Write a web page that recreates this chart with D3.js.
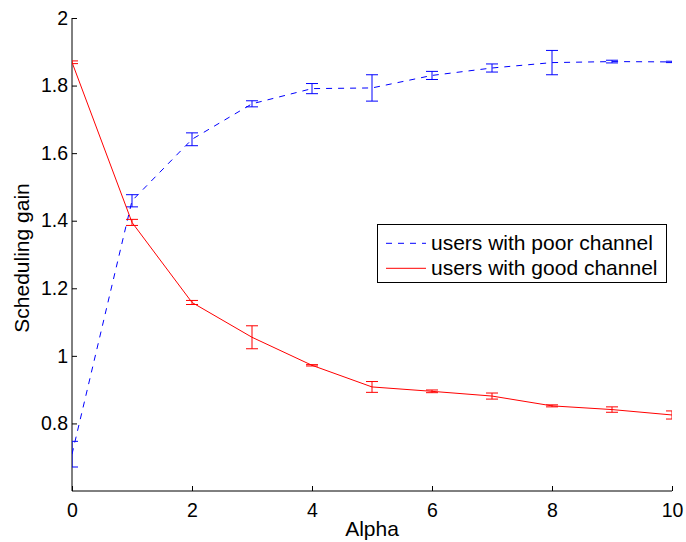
<!DOCTYPE html>
<html><head><meta charset="utf-8">
<script src="https://cdn.jsdelivr.net/npm/d3@7/dist/d3.min.js"></script>
<style>
body{margin:0;background:#fff;}
text{font-family:"Liberation Sans",Arial,Helvetica,sans-serif;}
</style></head>
<body>
<script>
const alpha = [0,1,2,3,4,5,6,7,8,9,10];
const poorMean = [0.709,1.459,1.641,1.746,1.791,1.793,1.830,1.852,1.868,1.871,1.870];
const poorErr  = [0.038,0.018,0.019,0.009,0.015,0.039,0.012,0.012,0.036,0.004,0.002];
const goodMean = [1.869,1.395,1.158,1.055,0.972,0.908,0.895,0.881,0.852,0.841,0.825];
const goodErr  = [0.004,0.009,0.006,0.034,0.002,0.016,0.004,0.009,0.003,0.008,0.012];
const xTicks = [0,2,4,6,8,10];
const yTicks = [0.8,1,1.2,1.4,1.6,1.8,2];
const seriesNames = ["users with poor channel","users with good channel"];

const W=686,H=542;
const L=72,R=672,T=18,B=491;
const svg=d3.select("body").append("svg").attr("width",W).attr("height",H);
const x=d3.scaleLinear().domain([0,10]).range([L,R]);
const y=d3.scaleLinear().domain([0.6,2]).range([B,T]);

svg.append("defs").append("clipPath").attr("id","clip")
  .append("rect").attr("x",L).attr("y",T-10).attr("width",R-L).attr("height",B-T+10);

const fsTick=19.5, fsLab=21;
// axes
const xAxis=d3.axisBottom(x).tickValues(xTicks).tickSizeInner(-5).tickSizeOuter(0).tickPadding(12).tickFormat(d3.format("d"));
const gx=svg.append("g").attr("transform",`translate(0,${B})`).call(xAxis);
const yAxis=d3.axisLeft(y).tickValues(yTicks).tickSizeInner(-5).tickSizeOuter(0).tickPadding(4).tickFormat(d=>String(d));
const gy=svg.append("g").attr("transform",`translate(${L},0)`).call(yAxis);
[gx,gy].forEach(g=>{
  g.selectAll("text").attr("font-size",fsTick).attr("fill","#000").style("font-family",'"Liberation Sans",Arial,sans-serif');
  g.selectAll("line").attr("stroke","#000");
  g.select(".domain").attr("stroke","#000");
});
gy.select(".domain").attr("d",`M0,${T}V${B}`);
gx.select(".domain").attr("d",`M${L},0H${R}`);

const plot=svg.append("g").attr("clip-path","url(#clip)");
function drawSeries(mean,err,color,dash){
  const line=d3.line().x((d,i)=>x(alpha[i])).y(d=>y(d));
  plot.append("path").datum(mean).attr("d",line).attr("fill","none")
    .attr("stroke",color).attr("stroke-width",1).attr("stroke-dasharray",dash);
  const cw=6;
  const g=plot.append("g").attr("stroke",color).attr("stroke-width",1).attr("fill","none");
  mean.forEach((m,i)=>{
    const cx=x(alpha[i]),y1=y(m+err[i]),y2=y(m-err[i]);
    g.append("line").attr("x1",cx).attr("x2",cx).attr("y1",y1).attr("y2",y2);
    g.append("line").attr("x1",cx-cw).attr("x2",cx+cw).attr("y1",y1).attr("y2",y1);
    g.append("line").attr("x1",cx-cw).attr("x2",cx+cw).attr("y1",y2).attr("y2",y2);
  });
}
drawSeries(poorMean,poorErr,"#0000ff","6,6");
drawSeries(goodMean,goodErr,"#ff0000",null);

// labels
svg.append("text").attr("x",(L+R)/2).attr("y",536).attr("text-anchor","middle")
  .attr("font-size",fsLab).text("Alpha");
svg.append("text").attr("transform",`translate(29,258) rotate(-90)`).attr("text-anchor","middle")
  .attr("font-size",fsLab).text("Scheduling gain");

// legend
const lg=svg.append("g");
lg.append("rect").attr("x",377.5).attr("y",224.5).attr("width",289).attr("height",58)
  .attr("fill","#fff").attr("stroke","#000").attr("stroke-width",1);
const colors=["#0000ff","#ff0000"],dashes=["6,6",null];
seriesNames.forEach((n,i)=>{
  const cy=243.3+i*25;
  lg.append("line").attr("x1",386).attr("x2",426).attr("y1",cy).attr("y2",cy)
    .attr("stroke",colors[i]).attr("stroke-width",1).attr("stroke-dasharray",dashes[i]);
  lg.append("text").attr("x",431).attr("y",cy+7).attr("font-size",fsLab).text(n);
});
</script>
</body></html>
